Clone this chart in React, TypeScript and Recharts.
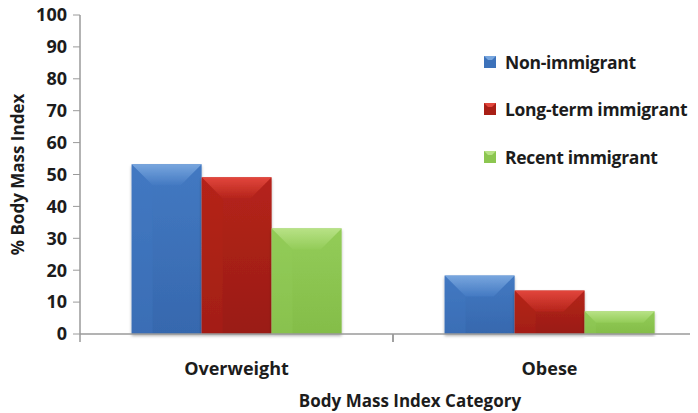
import React from "react";
import {
  BarChart,
  Bar,
  XAxis,
  YAxis,
  Legend,
  Label,
} from "recharts";

const categories = ["Overweight", "Obese"];
const nonImmigrant = [53.2, 18.3];
const longTermImmigrant = [49.1, 13.6];
const recentImmigrant = [33.1, 7.1];
const yTicks = [0, 10, 20, 30, 40, 50, 60, 70, 80, 90, 100];

const data = categories.map((category, i) => ({
  category,
  nonImmigrant: nonImmigrant[i],
  longTermImmigrant: longTermImmigrant[i],
  recentImmigrant: recentImmigrant[i],
}));

const FONT = "'Open Sans', sans-serif";
const TEXT = "#1c1c1c";
const AXIS = "#9a9a9a";

type Palette = { key: string; base: string; light: string; side: string; dark: string };

const palettes: Record<string, Palette> = {
  nonImmigrant: { key: "nonImmigrant", base: "#3d72ba", light: "#78a6de", side: "#4379c2", dark: "#3668ae" },
  longTermImmigrant: { key: "longTermImmigrant", base: "#a81f16", light: "#e2463c", side: "#b5241b", dark: "#9a1c14" },
  recentImmigrant: { key: "recentImmigrant", base: "#8cc650", light: "#b8e286", side: "#93cc58", dark: "#84bd49" },
};

const series = [
  { key: "nonImmigrant", name: "Non-immigrant" },
  { key: "longTermImmigrant", name: "Long-term immigrant" },
  { key: "recentImmigrant", name: "Recent immigrant" },
];

// bevelled bar: light top facet, faint left facet
function bevelShape(p: Palette) {
  return (props: any) => {
    const { x, y, width: w, height: h } = props;
    if (!w || !h || h <= 0) return <g />;
    const d = Math.min(21, w / 2, h / 2);
    return (
      <g filter="url(#barShadow)">
        <rect x={x} y={y} width={w} height={h} fill={`url(#face-${p.key})`} />
        <polygon
          points={`${x},${y} ${x + w},${y} ${x + w - d},${y + d} ${x + d},${y + d}`}
          fill={`url(#top-${p.key})`}
        />
        <polygon
          points={`${x},${y} ${x + d},${y + d} ${x + d},${y + h} ${x},${y + h}`}
          fill={p.side}
          opacity={0.35}
        />
      </g>
    );
  };
}

function Swatch({ p }: { p: Palette }) {
  const s = 12;
  const d = 4;
  return (
    <svg width={s} height={s} style={{ display: "block" }}>
      <rect width={s} height={s} fill={p.base} />
      <polygon points={`0,0 ${s},0 ${s - d},${d} ${d},${d}`} fill={p.light} />
    </svg>
  );
}

function LegendBox() {
  return (
    <div style={{ fontFamily: FONT, fontWeight: 700, fontSize: 17.5, letterSpacing: -0.3, color: TEXT }}>
      {series.map((s) => (
        <div key={s.key} style={{ height: 47.5, display: "flex", alignItems: "center" }}>
          <Swatch p={palettes[s.key]} />
          <span style={{ marginLeft: 9, whiteSpace: "nowrap" }}>{s.name}</span>
        </div>
      ))}
    </div>
  );
}

function YTitle(props: any) {
  const { viewBox } = props;
  const cx = 17;
  const cy = viewBox.y + viewBox.height / 2;
  return (
    <text
      x={cx}
      y={cy}
      transform={`rotate(-90 ${cx} ${cy})`}
      textAnchor="middle"
      dominantBaseline="central"
      fontFamily={FONT}
      fontWeight={700}
      fontSize={17}
      fill={TEXT}
    >
      % Body Mass Index
    </text>
  );
}

function XTitle(props: any) {
  const { viewBox } = props;
  const cx = viewBox.x + viewBox.width / 2 + 17;
  return (
    <text
      x={cx}
      y={400}
      textAnchor="middle"
      dominantBaseline="central"
      fontFamily={FONT}
      fontWeight={700}
      fontSize={17}
      fill={TEXT}
    >
      Body Mass Index Category
    </text>
  );
}

// category name plus short tick marks on both edges of the band
function CategoryTick(props: any) {
  const { x, y, payload } = props;
  const half = payload.offset ?? 0;
  return (
    <g>
      <line x1={x - half} x2={x - half} y1={y} y2={y + 8} stroke={AXIS} strokeWidth={1.5} />
      <line x1={x + half} x2={x + half} y1={y} y2={y + 8} stroke={AXIS} strokeWidth={1.5} />
      <text
        x={x}
        y={y + 34}
        textAnchor="middle"
        dominantBaseline="central"
        fontFamily={FONT}
        fontWeight={700}
        fontSize={18}
        fill={TEXT}
      >
        {payload.value}
      </text>
    </g>
  );
}

export default function App() {
  const tickStyle = { fontFamily: FONT, fontWeight: 700, fontSize: 18, fill: TEXT };
  return (
    <div style={{ margin: "-8px 0 0 -8px", width: 698, height: 413, overflow: "hidden", position: "relative", background: "#fff" }}>
      <BarChart
        width={716}
        height={413}
        data={data}
        margin={{ top: 15, right: 10, bottom: 0, left: 0 }}
        barCategoryGap="16.5%"
        barGap={0}
      >
        <defs>
          <filter id="barShadow" x="-10%" y="-10%" width="120%" height="120%">
            <feDropShadow dx={0} dy={2} stdDeviation={1.6} floodColor="#000" floodOpacity={0.3} />
          </filter>
          {Object.values(palettes).map((p) => (
            <linearGradient key={p.key} id={`top-${p.key}`} x1="0" y1="0" x2="0" y2="1">
              <stop offset="0%" stopColor={p.light} />
              <stop offset="100%" stopColor={p.side} />
            </linearGradient>
          ))}
          {Object.values(palettes).map((p) => (
            <linearGradient key={p.key} id={`face-${p.key}`} x1="0" y1="0" x2="0" y2="1">
              <stop offset="0%" stopColor={p.side} />
              <stop offset="100%" stopColor={p.dark} />
            </linearGradient>
          ))}
        </defs>
        <XAxis
          dataKey="category"
          height={79}
          axisLine={{ stroke: AXIS, strokeWidth: 1.5 }}
          tickLine={false}
          tickSize={0}
          tickMargin={0}
          interval={0}
          tick={<CategoryTick />}
        >
          <Label content={<XTitle />} />
        </XAxis>
        <YAxis
          domain={[0, 100]}
          ticks={yTicks}
          interval={0}
          width={80}
          tickSize={7}
          tickMargin={6}
          axisLine={{ stroke: AXIS, strokeWidth: 1.5 }}
          tickLine={{ stroke: AXIS }}
          tick={tickStyle}
        >
          <Label content={<YTitle />} />
        </YAxis>
        <Legend
          layout="vertical"
          align="center"
          verticalAlign="middle"
          content={<LegendBox />}
          wrapperStyle={{ left: 484, top: 38, width: 260 }}
        />
        {series.map((s) => (
          <Bar
            key={s.key}
            dataKey={s.key}
            name={s.name}
            fill={palettes[s.key].base}
            shape={bevelShape(palettes[s.key])}
            isAnimationActive={false}
          />
        ))}
      </BarChart>
    </div>
  );
}
